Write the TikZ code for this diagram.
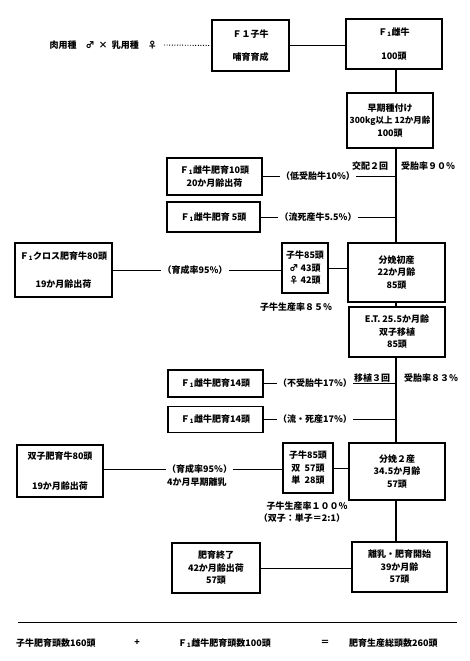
\documentclass[tikz,border=0pt]{standalone}
\usepackage{fontspec}
\setmainfont{Noto Sans CJK JP}
\newcommand{\dgfs}{\fontsize{9}{12.5}\selectfont\bfseries}
\newcommand{\Fone}{Ｆ\textsubscript{1}}
\begin{document}
\begin{tikzpicture}[x=1pt,y=-1pt,
  box/.style={draw, line width=1.1pt, rectangle, inner sep=0pt, align=center, font=\dgfs},
  lbl/.style={inner sep=1pt, font=\dgfs},
  con/.style={line width=0.9pt},
  spine/.style={line width=1.4pt}]
\useasboundingbox[fill=white] (0,0) rectangle (469,661);
\coordinate (sp) at (396,0);

% top row
\node[lbl, anchor=east] (parents) at (158,45) {肉用種\quad ♂\ \ ×\ \ 乳用種\quad ♀};
\node[box, minimum width=77pt, minimum height=51pt] (f1calf) at (250.5,45.5) {Ｆ１子牛\\[11pt]哺育育成};
\node[box, minimum width=96pt, minimum height=50pt] (f1cow) at (394,44) {\Fone 雌牛\\[11pt]100頭};
\draw[con, dash pattern=on 1pt off 1.6pt] ([xshift=6pt]parents.east) -- (f1calf.west);
\draw[con] (f1calf.east) -- (f1calf.east -| f1cow.west);

% early breeding
\node[box, minimum width=86pt, minimum height=55pt] (early) at (390,120.5) {早期種付け\\{\fontsize{8.5}{12.5}\selectfont 300kg以上 12か月齢}\\100頭};
\node[lbl] (mate) at (370,166) {交配２回};
\node[lbl] (conc1) at (428,166) {受胎率９０％};

\node[box, minimum width=95pt, minimum height=37pt] (fat10) at (214.5,176.5) {\Fone 雌牛肥育10頭\\20か月齢出荷};
\node[lbl] (low10) at (318,176.5) {（低受胎牛10\%）};
\draw[con] (fat10.east) -- (low10.west);
\draw[con] (low10.east) -- (low10.east -| sp);

\node[box, minimum width=93pt, minimum height=30pt] (fat5) at (213.5,217) {\Fone 雌牛肥育 5頭};
\node[lbl] (abort5) at (318,217) {（流死産牛5.5\%）};
\draw[con] (fat5.east) -- (abort5.west);
\draw[con] (abort5.east) -- (abort5.east -| sp);

% first calving
\node[box, minimum width=97pt, minimum height=54pt] (crossfat) at (63.5,270) {\Fone クロス肥育牛80頭\\[15pt]19か月齢出荷};
\node[lbl] (rear1) at (195,270) {（育成率95\%）};
\node[box, minimum width=46pt, minimum height=50pt] (calves1) at (305,268) {子牛85頭\\♂\ 43頭\\♀\ 42頭};
\node[box, minimum width=97pt, minimum height=59pt] (birth1) at (396.5,272.5) {分娩初産\\22か月齢\\85頭};
\draw[con] (crossfat.east) -- (crossfat.east -| rear1.west);
\draw[con] (rear1.east) -- (rear1.east -| calves1.west);
\draw[con] (calves1.east) -- (calves1.east -| birth1.west);
\node[lbl] (prod85) at (296,307) {子牛生産率８５％};

% embryo transfer
\node[box, minimum width=96pt, minimum height=50pt] (et) at (397,332) {E.T.\ 25.5か月齢\\双子移植\\85頭};
\node[lbl] (transfer) at (372,378) {移植３回};
\node[lbl] (conc2) at (431,378) {受胎率８３％};

\node[box, minimum width=95pt, minimum height=27pt] (fat14a) at (215.5,383.5) {\Fone 雌牛肥育14頭};
\node[lbl] (nocon) at (315,383.5) {（不受胎牛17\%）};
\draw[con] (fat14a.east) -- (nocon.west);
\draw[con] (nocon.east) -- (nocon.east -| sp);

\node[box, minimum width=95pt, minimum height=26pt] (fat14b) at (215.5,419.5) {\Fone 雌牛肥育14頭};
\node[lbl] (abort17) at (315,419.5) {（流・死産17\%）};
\draw[con] (fat14b.east) -- (abort17.west);
\draw[con] (abort17.east) -- (abort17.east -| sp);

% second calving
\node[box, minimum width=86pt, minimum height=52pt] (twinfat) at (60,471) {双子肥育牛80頭\\[17pt]19か月齢出荷};
\node[lbl, anchor=west] (rear2) at (166,469) {（育成率95\%）};
\node[lbl, anchor=west] (wean4) at (166,482) {4か月早期離乳};
\node[box, minimum width=50pt, minimum height=50pt] (calves2) at (308,468) {子牛85頭\\双\ \ 57頭\\単\ \ 28頭};
\node[box, minimum width=96pt, minimum height=57pt] (birth2) at (397,471.5) {分娩２産\\34.5か月齢\\57頭};
\draw[con] (twinfat.east |- rear2.west) -- (rear2.west);
\draw[con] (rear2.east) -- (rear2.east -| calves2.west);
\draw[con] (calves2.east) -- (calves2.east -| birth2.west);
\node[lbl] (prod100) at (307,506) {子牛生産率１００％};
\node[lbl] (ratio) at (302,518) {（双子：単子＝2:1）};

% final
\node[box, minimum width=88pt, minimum height=50pt] (fatend) at (216,568) {肥育終了\\42か月齢出荷\\57頭};
\node[box, minimum width=95pt, minimum height=50pt] (wean) at (399.5,567) {離乳・肥育開始\\39か月齢\\57頭};
\draw[con] (fatend.east) -- (fatend.east -| wean.west);

% spine
\draw[spine] (f1cow.south -| sp) -- (early.north -| sp);
\draw[spine] (early.south -| sp) -- (birth1.north -| sp);
\draw[spine] (birth1.south -| sp) -- (et.north -| sp);
\draw[spine] (et.south -| sp) -- (birth2.north -| sp);
\draw[spine] (birth2.south -| sp) -- (wean.north -| sp);

% bottom summary
\coordinate (b1) at (18,622);
\coordinate (b2) at (457,622);
\draw[con] (b1) -- (b2);
\node[lbl, anchor=west] (sum1) at (15,643) {子牛肥育頭数160頭};
\node[lbl] (plus) at (137,643) {+};
\node[lbl, anchor=west] (sum2) at (177,643) {\Fone 雌牛肥育頭数100頭};
\node[lbl] (eq) at (325,643) {＝};
\node[lbl, anchor=west] (total) at (348,643) {肥育生産総頭数260頭};
\end{tikzpicture}
\end{document}
